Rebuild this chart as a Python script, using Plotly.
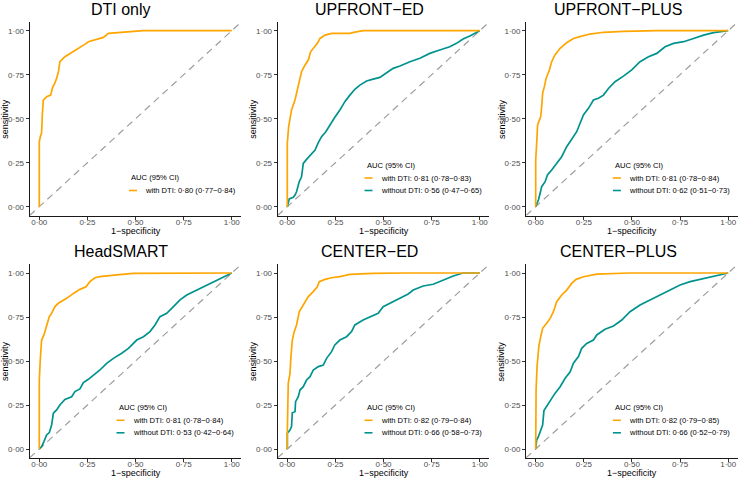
import plotly.graph_objects as go

W, H = 738, 478

# ---------------- data ----------------
titles = ["DTI only", "UPFRONT−ED", "UPFRONT−PLUS", "HeadSMART", "CENTER−ED", "CENTER−PLUS"]
legend_title = "AUC (95% CI)"
with_labels = [
    "with DTI: 0·80 (0·77−0·84)",
    "with DTI: 0·81 (0·78−0·83)",
    "with DTI: 0·81 (0·78−0·84)",
    "with DTI: 0·81 (0·78−0·84)",
    "with DTI: 0·82 (0·79−0·84)",
    "with DTI: 0·82 (0·79−0·85)",
]
without_labels = [
    None,
    "without DTI: 0·56 (0·47−0·65)",
    "without DTI: 0·62 (0·51−0·73)",
    "without DTI: 0·53 (0·42−0·64)",
    "without DTI: 0·66 (0·58−0·73)",
    "without DTI: 0·66 (0·52−0·79)",
]
tick_vals = [0, 0.25, 0.5, 0.75, 1.0]
tick_text = ["0·00", "0·25", "0·50", "0·75", "1·00"]

# DTI only
fpr_dti_only = [0, 0, 0.006, 0.012, 0.016, 0.021, 0.038, 0.059, 0.069, 0.08, 0.09, 0.1, 0.107, 0.12, 0.133,
                0.16, 0.185, 0.22, 0.24, 0.255, 0.29, 0.333, 0.359, 0.42, 0.49, 0.54, 1.0]
tpr_dti_only = [0, 0.37, 0.40, 0.42, 0.53, 0.606, 0.625, 0.634, 0.678, 0.70, 0.729, 0.77, 0.824, 0.84, 0.852,
                0.87, 0.886, 0.909, 0.925, 0.9375, 0.95, 0.962, 0.985, 0.99, 0.996, 1.0, 1.0]

# UPFRONT-ED
fpr_upfront_ed_with = [0, 0, 0.007, 0.014, 0.022, 0.04, 0.052, 0.062, 0.074, 0.092, 0.109, 0.121, 0.135, 0.156,
                       0.17, 0.196, 0.23, 0.325, 0.351, 0.394, 1.0]
tpr_upfront_ed_with = [0, 0.36, 0.455, 0.50, 0.55, 0.606, 0.663, 0.72, 0.767, 0.805, 0.833, 0.88, 0.90, 0.928,
                       0.956, 0.975, 0.985, 0.985, 0.992, 1.0, 1.0]
fpr_upfront_ed_without = [0, 0.01, 0.031, 0.04, 0.048, 0.062, 0.074, 0.083, 0.1, 0.121, 0.144, 0.161, 0.178, 0.2,
                          0.221, 0.247, 0.273, 0.299, 0.325, 0.351, 0.377, 0.412, 0.446, 0.481, 0.516, 0.55,
                          0.585, 0.637, 0.689, 0.74, 0.792, 0.844, 0.879, 0.913, 0.948, 0.974, 1.0]
tpr_upfront_ed_without = [0, 0.044, 0.053, 0.066, 0.085, 0.142, 0.17, 0.246, 0.269, 0.297, 0.322, 0.364, 0.398,
                          0.426, 0.464, 0.508, 0.549, 0.597, 0.634, 0.667, 0.691, 0.714, 0.725, 0.735, 0.761,
                          0.786, 0.799, 0.824, 0.843, 0.871, 0.89, 0.909, 0.928, 0.953, 0.97, 0.985, 1.0]

# UPFRONT-PLUS
fpr_upfront_plus_with = [0, 0, 0.005, 0.01, 0.019, 0.026, 0.031, 0.036, 0.045, 0.054, 0.071, 0.083, 0.1, 0.127,
                         0.161, 0.196, 0.23, 0.282, 0.352, 0.456, 0.63, 1.0]
tpr_upfront_plus_with = [0, 0.265, 0.36, 0.464, 0.492, 0.511, 0.568, 0.644, 0.682, 0.729, 0.777, 0.824, 0.862,
                         0.90, 0.932, 0.956, 0.966, 0.981, 0.991, 0.996, 1.0, 1.0]
fpr_upfront_plus_without = [0, 0.014, 0.023, 0.031, 0.049, 0.061, 0.083, 0.109, 0.135, 0.161, 0.196, 0.213, 0.23,
                            0.248, 0.274, 0.30, 0.326, 0.352, 0.378, 0.412, 0.456, 0.499, 0.542, 0.586, 0.629,
                            0.672, 0.716, 0.768, 0.82, 0.872, 0.924, 0.976, 1.0]
tpr_upfront_plus_without = [0, 0.038, 0.076, 0.114, 0.142, 0.18, 0.208, 0.246, 0.284, 0.341, 0.398, 0.426, 0.473,
                            0.521, 0.559, 0.606, 0.616, 0.634, 0.672, 0.71, 0.742, 0.777, 0.824, 0.852, 0.871,
                            0.909, 0.928, 0.9375, 0.956, 0.975, 0.989, 0.996, 1.0]

# HeadSMART
fpr_headsmart_with = [0, 0, 0.005, 0.012, 0.024, 0.038, 0.052, 0.064, 0.081, 0.099, 0.142, 0.177, 0.211, 0.243,
                      0.263, 0.289, 0.315, 0.402, 0.489, 1.0]
tpr_headsmart_with = [0, 0.392, 0.506, 0.619, 0.648, 0.705, 0.752, 0.771, 0.809, 0.828, 0.856, 0.884, 0.907, 0.922,
                      0.951, 0.973, 0.979, 0.989, 0.998, 1.0]
fpr_headsmart_without = [0, 0.012, 0.024, 0.038, 0.052, 0.064, 0.073, 0.09, 0.107, 0.133, 0.168, 0.185, 0.211,
                         0.229, 0.255, 0.281, 0.315, 0.35, 0.385, 0.428, 0.463, 0.506, 0.541, 0.575, 0.601, 0.627,
                         0.662, 0.697, 0.731, 0.766, 0.818, 0.87, 0.922, 0.974, 1.0]
tpr_headsmart_without = [0, 0.013, 0.042, 0.08, 0.093, 0.136, 0.203, 0.222, 0.25, 0.282, 0.297, 0.326, 0.341,
                         0.377, 0.396, 0.42, 0.449, 0.487, 0.515, 0.544, 0.572, 0.619, 0.638, 0.667, 0.705, 0.752,
                         0.771, 0.809, 0.847, 0.875, 0.903, 0.932, 0.96, 0.989, 1.0]

# CENTER-ED
fpr_center_ed_with = [0, 0, 0.005, 0.014, 0.019, 0.026, 0.036, 0.048, 0.062, 0.083, 0.109, 0.135, 0.156, 0.166,
                      0.196, 0.23, 0.273, 0.325, 0.446, 0.62, 1.0]
tpr_center_ed_with = [0, 0.089, 0.373, 0.43, 0.525, 0.619, 0.667, 0.705, 0.78, 0.818, 0.866, 0.894, 0.922, 0.951,
                      0.964, 0.973, 0.979, 0.992, 0.998, 1.0, 1.0]
fpr_center_ed_without = [0, 0, 0.014, 0.022, 0.026, 0.04, 0.043, 0.057, 0.066, 0.083, 0.1, 0.118, 0.135, 0.161,
                         0.187, 0.204, 0.23, 0.247, 0.273, 0.308, 0.334, 0.351, 0.394, 0.438, 0.472, 0.498, 0.533,
                         0.585, 0.628, 0.654, 0.706, 0.758, 0.792, 0.827, 0.862, 0.913, 1.0]
tpr_center_ed_without = [0, 0.089, 0.108, 0.127, 0.206, 0.212, 0.269, 0.297, 0.335, 0.354, 0.392, 0.411, 0.449,
                         0.468, 0.477, 0.515, 0.553, 0.591, 0.619, 0.638, 0.667, 0.705, 0.733, 0.756, 0.771, 0.809,
                         0.828, 0.856, 0.881, 0.903, 0.926, 0.936, 0.951, 0.964, 0.983, 1.0, 1.0]

# CENTER-PLUS
fpr_center_plus_with = [0, 0, 0.002, 0.007, 0.016, 0.026, 0.036, 0.057, 0.075, 0.092, 0.109, 0.135, 0.161, 0.187,
                        0.21, 0.248, 0.317, 0.49, 1.0]
tpr_center_plus_with = [0, 0.089, 0.335, 0.468, 0.581, 0.638, 0.686, 0.714, 0.742, 0.78, 0.837, 0.875, 0.903,
                        0.941, 0.964, 0.979, 0.994, 1.0, 1.0]
fpr_center_plus_without = [0, 0.005, 0.014, 0.023, 0.036, 0.043, 0.057, 0.075, 0.1, 0.127, 0.153, 0.179, 0.196,
                           0.222, 0.239, 0.265, 0.30, 0.317, 0.36, 0.404, 0.447, 0.49, 0.542, 0.594, 0.646, 0.698,
                           0.75, 0.802, 0.854, 0.906, 0.958, 1.0]
tpr_center_plus_without = [0, 0.051, 0.07, 0.098, 0.136, 0.218, 0.241, 0.278, 0.316, 0.354, 0.402, 0.439, 0.487,
                           0.525, 0.572, 0.60, 0.619, 0.648, 0.68, 0.699, 0.733, 0.78, 0.818, 0.847, 0.875, 0.903,
                           0.932, 0.951, 0.964, 0.979, 0.992, 1.0]

with_curves = [
    (fpr_dti_only, tpr_dti_only),
    (fpr_upfront_ed_with, tpr_upfront_ed_with),
    (fpr_upfront_plus_with, tpr_upfront_plus_with),
    (fpr_headsmart_with, tpr_headsmart_with),
    (fpr_center_ed_with, tpr_center_ed_with),
    (fpr_center_plus_with, tpr_center_plus_with),
]
without_curves = [
    None,
    (fpr_upfront_ed_without, tpr_upfront_ed_without),
    (fpr_upfront_plus_without, tpr_upfront_plus_without),
    (fpr_headsmart_without, tpr_headsmart_without),
    (fpr_center_ed_without, tpr_center_ed_without),
    (fpr_center_plus_without, tpr_center_plus_without),
]

# ---------------- styling / layout ----------------
ORANGE = "#FFA500"
TEAL = "#00938E"
DIAG = "#9E9E9E"
FONT = "Liberation Sans, Arial, sans-serif"
AX_RANGE = [-0.05, 1.05]

X0_PX = [39.3, 287.3, 535.7]      # pixel of fpr = 0 per column
X_SCALE = 192.5                    # pixels per unit fpr
Y0_PX = [206.7, 449.0]             # pixel of tpr = 0 per row
Y_SCALE = 176.0                    # pixels per unit tpr
TITLE_X = [121, 369, 618]
TITLE_Y = [9.0, 251.5]
XTITLE_Y = [231.5, 472.5]


def px(x):
    return x / W


def py(y):
    return 1 - y / H


fig = go.Figure()
annotations = []
shapes = []

for i in range(6):
    r, c = divmod(i, 3)
    n = i + 1
    xa = "x" if n == 1 else f"x{n}"
    ya = "y" if n == 1 else f"y{n}"
    x0, y0 = X0_PX[c], Y0_PX[r]
    xl = x0 + AX_RANGE[0] * X_SCALE
    xr = x0 + AX_RANGE[1] * X_SCALE
    yb = y0 - AX_RANGE[0] * Y_SCALE
    yt = y0 - AX_RANGE[1] * Y_SCALE

    axis_common = dict(
        range=AX_RANGE, tickvals=tick_vals, ticktext=tick_text,
        showgrid=False, zeroline=False, showline=True, linecolor="#1a1a1a", linewidth=1,
        ticks="outside", ticklen=3, tickwidth=1, tickcolor="#333333",
        tickfont=dict(family=FONT, size=8, color="#4D4D4D"),
        fixedrange=True,
    )
    fig.update_layout(**{
        ("xaxis" if n == 1 else f"xaxis{n}"): dict(domain=[px(xl), px(xr)], anchor=ya,
                                                    ticklabelstandoff=-4, **axis_common),
        ("yaxis" if n == 1 else f"yaxis{n}"): dict(domain=[py(yb), py(yt)], anchor=xa, **axis_common),
    })

    # reference diagonal across the full panel
    fig.add_trace(go.Scatter(x=AX_RANGE, y=AX_RANGE, mode="lines", xaxis=xa, yaxis=ya,
                             line=dict(color=DIAG, width=1.2, dash="7px,5px"),
                             showlegend=False, hoverinfo="skip"))
    if without_curves[i] is not None:
        fx, ty = without_curves[i]
        fig.add_trace(go.Scatter(x=fx, y=ty, mode="lines", xaxis=xa, yaxis=ya,
                                 line=dict(color=TEAL, width=1.7), name=without_labels[i],
                                 showlegend=False))
    fx, ty = with_curves[i]
    fig.add_trace(go.Scatter(x=fx, y=ty, mode="lines", xaxis=xa, yaxis=ya,
                             line=dict(color=ORANGE, width=1.7), name=with_labels[i],
                             showlegend=False))

    # panel title
    annotations.append(dict(text=titles[i], x=px(TITLE_X[c]), y=py(TITLE_Y[r]), xref="paper", yref="paper",
                            xanchor="center", yanchor="middle", showarrow=False,
                            font=dict(family=FONT, size=16, color="black")))
    # axis titles
    annotations.append(dict(text="1−specificity", x=px(x0 + 0.5 * X_SCALE), y=py(XTITLE_Y[r]),
                            xref="paper", yref="paper", xanchor="center", yanchor="middle",
                            showarrow=False, font=dict(family=FONT, size=9, color="black")))
    annotations.append(dict(text="sensitivity", x=px(xl - 24.7), y=py(y0 - 0.5 * Y_SCALE),
                            xref="paper", yref="paper", xanchor="center", yanchor="middle",
                            textangle=-90, showarrow=False, font=dict(family=FONT, size=9, color="black")))

    # legend (drawn manually, ggplot-style, bottom-right of the panel)
    items = [(with_labels[i], ORANGE)]
    if without_labels[i] is not None:
        items.append((without_labels[i], TEAL))
    text_left = x0 + (103.7 if len(items) == 1 else 91.2)
    item_ys = [y0 - 28.7, y0 - 16.2] if len(items) == 2 else [y0 - 16.2]
    title_y = item_ys[0] - 13.0
    annotations.append(dict(text=legend_title, x=px(text_left - 14), y=py(title_y), xref="paper", yref="paper",
                            xanchor="left", yanchor="middle", showarrow=False,
                            font=dict(family=FONT, size=7.6, color="black")))
    for (lab, col), yy in zip(items, item_ys):
        shapes.append(dict(type="line", xref="paper", yref="paper",
                           x0=px(text_left - 14), x1=px(text_left - 6), y0=py(yy), y1=py(yy),
                           line=dict(color=col, width=1.6)))
        annotations.append(dict(text=lab, x=px(text_left), y=py(yy), xref="paper", yref="paper",
                                xanchor="left", yanchor="middle", showarrow=False,
                                font=dict(family=FONT, size=7.6, color="black")))

fig.update_layout(
    width=W, height=H, margin=dict(l=0, r=0, t=0, b=0),
    paper_bgcolor="white", plot_bgcolor="white",
    annotations=annotations, shapes=shapes, showlegend=False,
    font=dict(family=FONT),
)

# the page's default body margin would shift the figure; remove it
fig.write_html("out.html", config={"displayModeBar": False},
               post_script="document.body.style.margin='0px';document.body.style.overflow='hidden';")
